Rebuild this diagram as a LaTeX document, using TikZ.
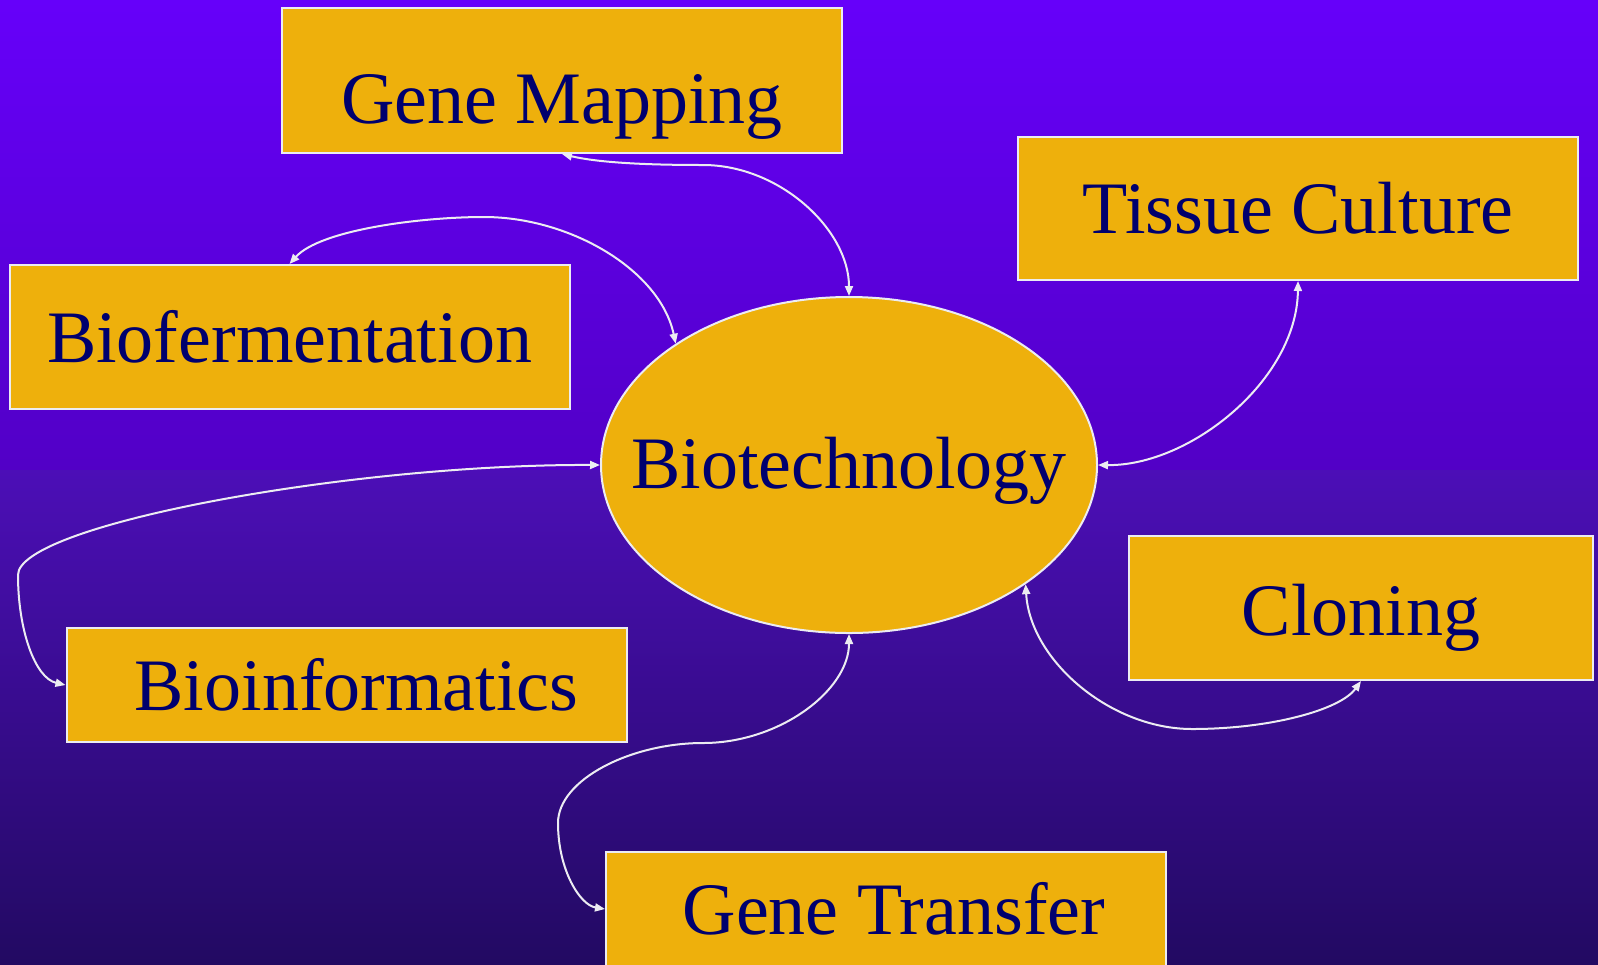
\documentclass[tikz,border=0pt]{standalone}
\usepackage{fontspec}
\setmainfont{Liberation Serif}
\usepackage{xcolor}
\definecolor{bgtop}{RGB}{102,0,250}
\definecolor{bgmid}{RGB}{82,0,198}
\definecolor{bgband}{RGB}{76,14,183}
\definecolor{bgbottom}{RGB}{34,10,98}
\definecolor{topicgold}{RGB}{238,176,12}
\definecolor{topicnavy}{RGB}{0,0,110}
\definecolor{linkwhite}{RGB}{236,236,242}
\usetikzlibrary{shapes.geometric,arrows.meta}

\begin{document}
\begin{tikzpicture}[
  x=0.5pt, y=-0.5pt,
  font=\fontsize{37}{41}\selectfont,
  topic/.style={draw=linkwhite, line width=1pt, fill=topicgold, text=topicnavy, inner sep=0pt, minimum width=280pt},
  hub/.style={ellipse, draw=linkwhite, line width=1pt, fill=topicgold, text=topicnavy, inner sep=0pt, minimum width=248pt, minimum height=168pt},
  link/.style={{Triangle[length=5pt,width=4pt]}-{Triangle[length=5pt,width=4pt]}, linkwhite, line width=1pt}]
  % background
  \useasboundingbox (0,0) rectangle (1598,964);
  \shade[top color=bgtop, bottom color=bgmid] (0,0) rectangle (1598,470);
  \shade[top color=bgband, bottom color=bgbottom] (0,470) rectangle (1598,964);
  % topics
  \node[hub, text height=23pt, text depth=0pt] (bt) at (849,465) {\makebox[0pt]{Biotechnology}};
  \node[topic, minimum height=72.5pt, text height=43pt, text depth=0pt] (gm) at (562,80.5) {Gene Mapping};
  \node[topic, minimum height=71.5pt] (tc) at (1298,208.5) {Tissue Culture};
  \node[topic, minimum height=72pt] (bf) at (289.5,337) {Biofermentation};
  \node[topic, minimum width=232pt, minimum height=72pt, text height=27pt, text depth=0pt] (cl) at (1361,608) {Cloning};
  \node[topic, minimum height=57pt] (bi) at (346.5,685) {\hspace{10pt}Bioinformatics};
  \node[topic, minimum height=57pt] (gt) at (886,909) {\hspace{8pt}Gene Transfer};
  % links
  \draw[link] (gm.south) .. controls (600,163) and (650,165) .. (703,165)
    .. controls (780,165) and (849,230) .. (bt.north);
  \draw[link] (bf.north) .. controls (320,230) and (420,217) .. (484,217)
    .. controls (570,217) and (660,270) .. (bt.145);
  \draw[link] (bt.west) .. controls (350,464) and (18,525) .. (18,575)
    .. controls (18,630) and (35,678) .. (bi.west);
  \draw[link] (bt.south) .. controls (849,690) and (780,743) .. (703,743)
    .. controls (630,743) and (558,780) .. (558,823)
    .. controls (558,870) and (580,905) .. (gt.west);
  \draw[link] (tc.south) .. controls (1297,380) and (1190,466) .. (bt.east);
  \draw[link] (bt.-34) .. controls (1030,660) and (1110,729) .. (1192,729)
    .. controls (1270,729) and (1340,710) .. (cl.south);
\end{tikzpicture}
\end{document}
